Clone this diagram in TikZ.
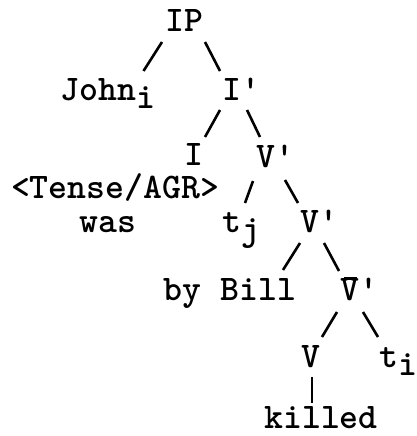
\documentclass[tikz,border=0pt]{standalone}
\usepackage{fontspec}
\newcommand{\prm}{\char"0027}
\newcommand{\lowr}[1]{\raisebox{-8pt}{#1}}
\newcommand{\vbar}{\rlap{\hspace{0.1em}\raisebox{0.56em}{\rule{0.36em}{0.08em}}}V}

\begin{document}
\begin{tikzpicture}[x=1pt,y=-1pt,
    every node/.style={font=\ttfamily\bfseries\fontsize{36}{36}\selectfont, inner sep=0pt, anchor=base},
    branch/.style={line width=2.6pt}]
				\useasboundingbox (0,0) rectangle (417,436);
				
				% csomópontok
				\node (IP) at (184.5,32) {IP};
				\node (John) at (108,100) {John\lowr{i}};
				\node (Ibar) at (241,100) {I\prm};
				\node (I) at (194,165) {I};
				\node (Vbar) at (275,167) {V\prm};
				\node (tense) at (115,198) {<Tense/AGR>};
				\node (was) at (108,232) {was};
				\node (tj) at (241,232) {t\lowr{j}};
				\node (Vbar2) at (319,232) {V\prm};
				\node (bill) at (230,300) {by Bill};
				\node (Vbb) at (359,300) {\vbar\prm};
				\node (V) at (311,367) {V};
				\node (ti) at (398,367) {t\lowr{i}};
				\node (killed) at (321,428) {killed};
				
				% ágak
				\draw[branch] ([shift={(-22.5,10)}]IP.base) -- ([shift={(35.5,-29)}]John.base);
				\draw[branch] ([shift={(20.5,10)}]IP.base) -- ([shift={(-21,-29)}]Ibar.base);
				\draw[branch] ([shift={(-21,10)}]Ibar.base) -- ([shift={(11,-28)}]I.base);
				\draw[branch] ([shift={(6,10)}]Ibar.base) -- ([shift={(-15,-30)}]Vbar.base);
				\draw[branch] ([shift={(-22,14)}]Vbar.base) -- ([shift={(4,-29)}]tj.base);
				\draw[branch] ([shift={(10,13)}]Vbar.base) -- ([shift={(-21,-29)}]Vbar2.base);
				\draw[branch] ([shift={(-19,11)}]Vbar2.base) -- ([shift={(53,-30)}]bill.base);
				\draw[branch] ([shift={(5,11)}]Vbar2.base) -- ([shift={(-20,-29)}]Vbb.base);
				\draw[branch] ([shift={(-22,12)}]Vbb.base) -- ([shift={(11,-30)}]V.base);
				\draw[branch] ([shift={(4,12)}]Vbb.base) -- ([shift={(-20,-30)}]ti.base);
				\draw[branch] ([shift={(1,10)}]V.base) -- ([shift={(-9,-25)}]killed.base);
				
			\end{tikzpicture}
\end{document}
